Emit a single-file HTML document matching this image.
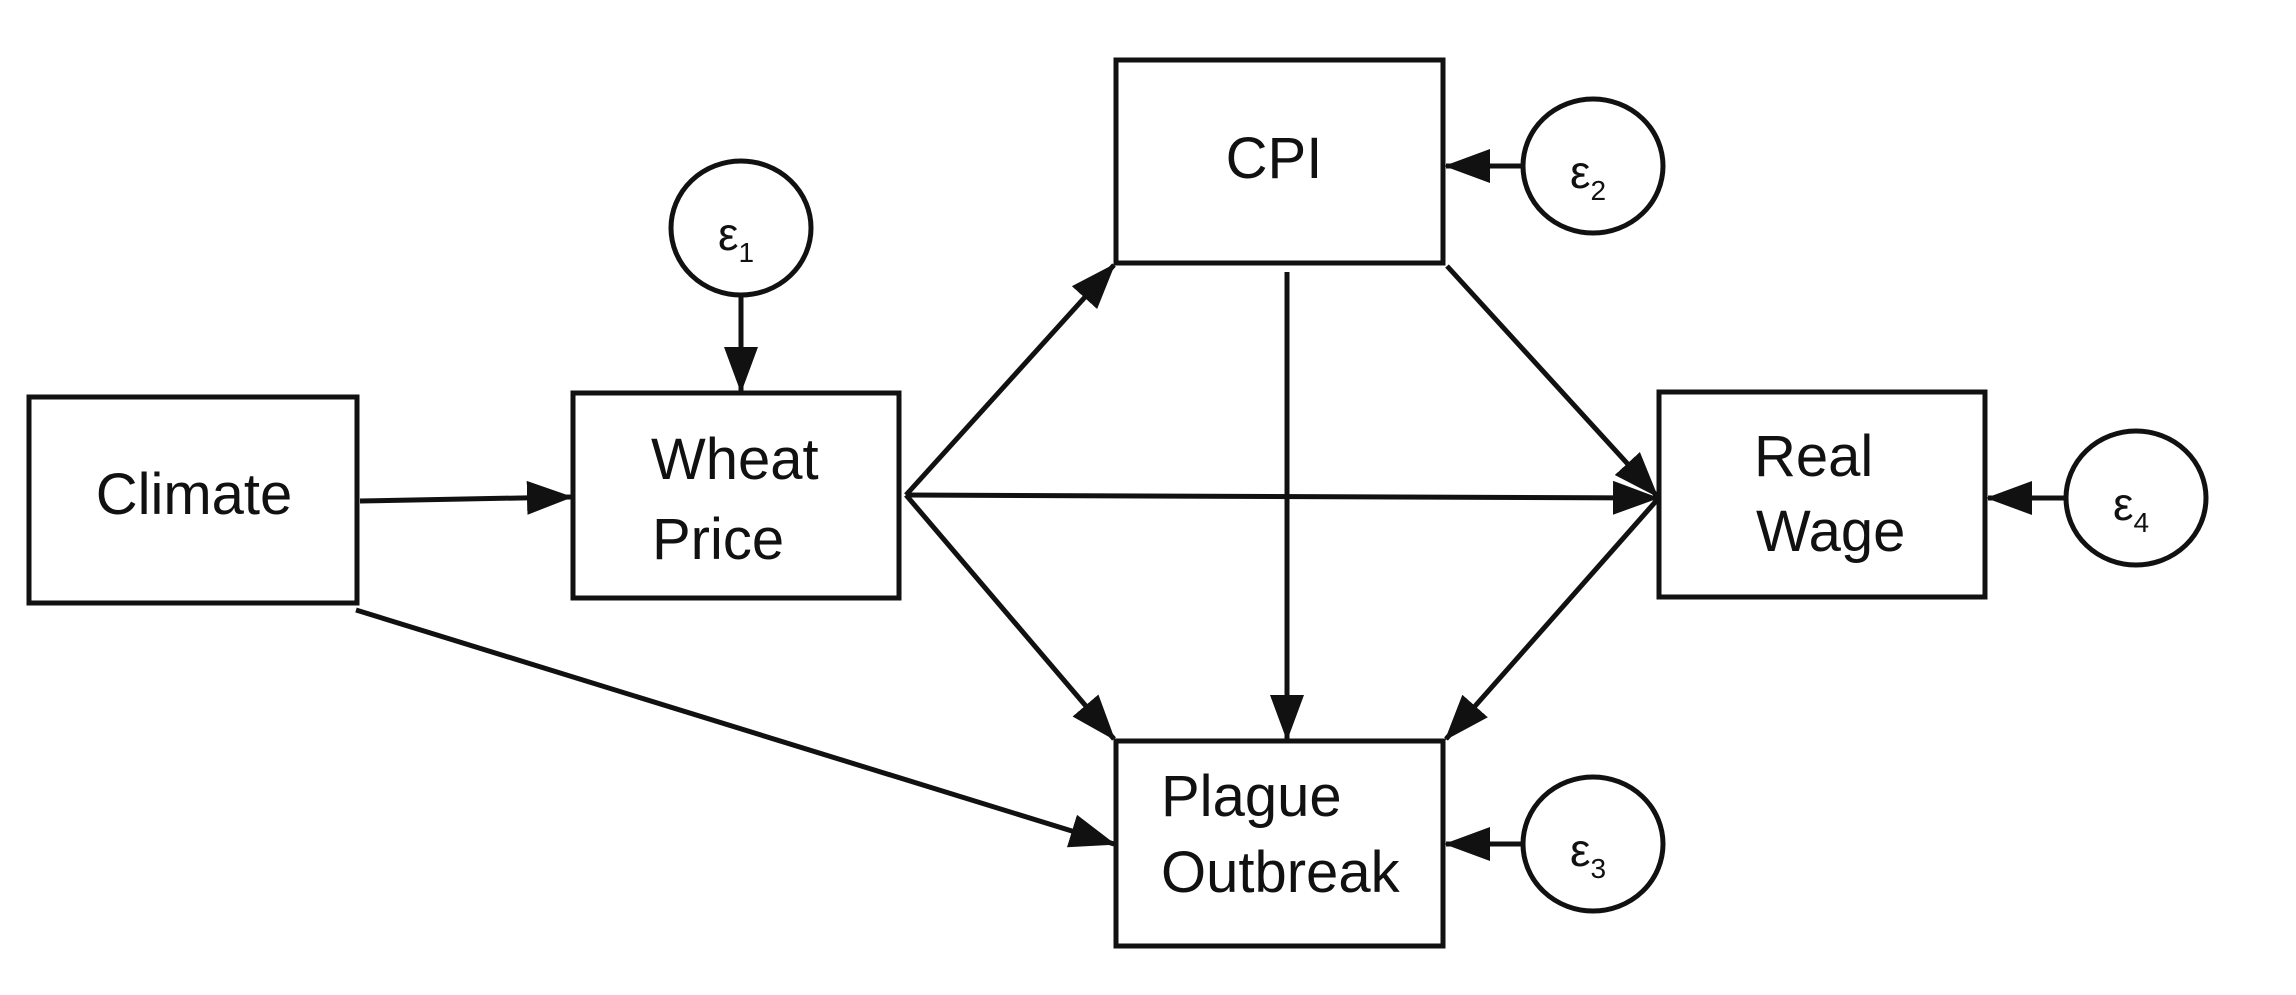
<!DOCTYPE html>
<html><head><meta charset="utf-8"><style>
html,body{margin:0;padding:0;background:#fff;}
svg{display:block;}
text{font-family:"Liberation Sans",Arial,sans-serif;fill:#111;}
</style></head><body>
<svg width="2296" height="995" viewBox="0 0 2296 995" xmlns="http://www.w3.org/2000/svg">
<defs>
<marker id="a" markerUnits="userSpaceOnUse" markerWidth="46" markerHeight="34" refX="44" refY="17" orient="auto">
<path d="M0,0 L46,17 L0,34 Z" fill="#111"/>
</marker>
</defs>
<g stroke="#111" stroke-width="5" fill="#fff">
<rect x="29" y="397" width="328" height="206"/>
<rect x="573" y="393" width="326" height="205"/>
<rect x="1116" y="60" width="327" height="203"/>
<rect x="1659" y="392" width="326" height="205"/>
<rect x="1116" y="741" width="327" height="205"/>
<ellipse cx="741" cy="228" rx="70" ry="67"/>
<ellipse cx="1593" cy="166" rx="70" ry="67"/>
<ellipse cx="1593" cy="844" rx="70" ry="67"/>
<ellipse cx="2136" cy="498" rx="70" ry="67"/>
</g>
<g stroke="#111" stroke-width="5" fill="none" marker-end="url(#a)">
<line x1="360" y1="501" x2="571" y2="497"/>
<line x1="356" y1="610" x2="1114" y2="844"/>
<line x1="741" y1="296" x2="741" y2="391"/>
<line x1="906" y1="495" x2="1114" y2="265"/>
<line x1="906" y1="495" x2="1657" y2="498"/>
<line x1="906" y1="495" x2="1114" y2="739"/>
<line x1="1287" y1="272" x2="1287" y2="739"/>
<line x1="1447" y1="266" x2="1657" y2="496"/>
<line x1="1657" y1="500" x2="1446" y2="739"/>
<line x1="1523" y1="166" x2="1446" y2="166"/>
<line x1="1523" y1="844" x2="1446" y2="844"/>
<line x1="2066" y1="498" x2="1988" y2="498"/>
</g>
<g font-size="58">
<text x="194" y="514" text-anchor="middle">Climate</text>
<text x="651" y="479">Wheat</text>
<text x="652" y="559">Price</text>
<text x="1274" y="178" text-anchor="middle">CPI</text>
<text x="1754" y="476">Real</text>
<text x="1756" y="551">Wage</text>
<text x="1161" y="816">Plague</text>
<text x="1161" y="892">Outbreak</text>
</g>
<g font-size="46">
<text x="718" y="250">ε<tspan font-size="28" dy="12">1</tspan></text>
<text x="1570" y="188">ε<tspan font-size="28" dy="12">2</tspan></text>
<text x="1570" y="866">ε<tspan font-size="28" dy="12">3</tspan></text>
<text x="2113" y="520">ε<tspan font-size="28" dy="12">4</tspan></text>
</g>
</svg>
</body></html>
